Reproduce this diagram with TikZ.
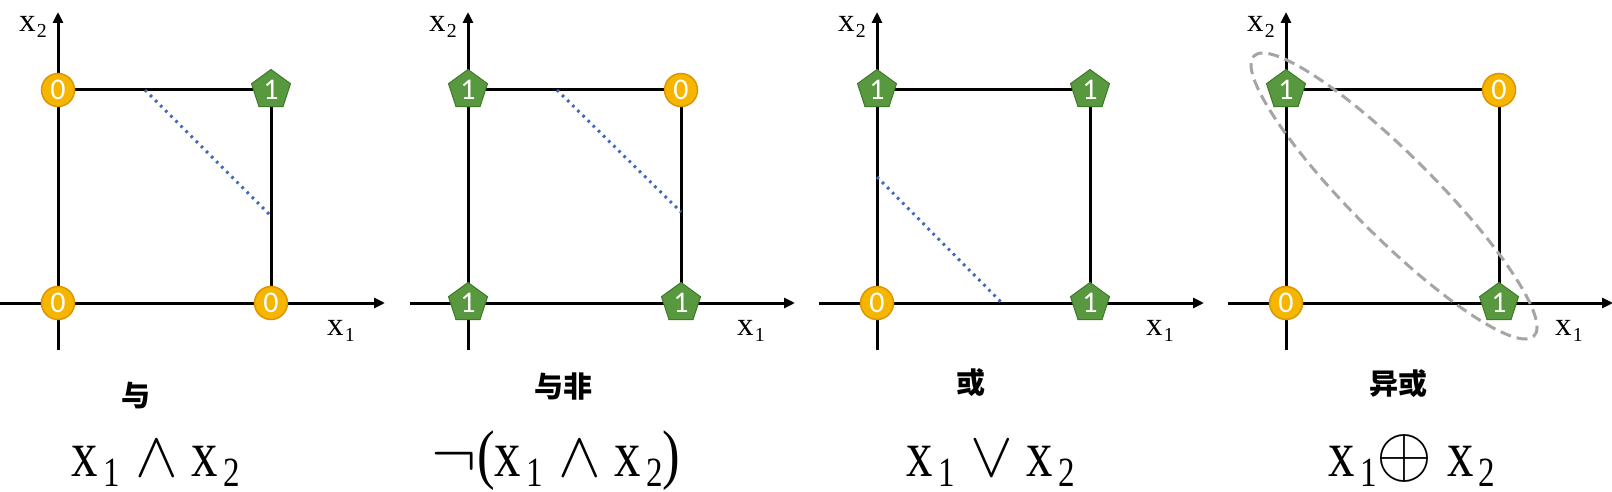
\documentclass[tikz,border=0pt]{standalone}
\usepackage{fontspec}
\usepackage{graphicx}
\newfontfamily\cjk{Noto Sans CJK SC}
\newfontfamily\digitfont{Carlito}
\newfontfamily\formfont{Liberation Serif}
\usetikzlibrary{shapes.geometric,arrows.meta}
\definecolor{gold}{RGB}{246,182,0}
\definecolor{golddark}{RGB}{222,150,0}
\definecolor{leaf}{RGB}{88,152,62}
\definecolor{leafdark}{RGB}{62,122,42}
\definecolor{sepblue}{RGB}{68,104,190}
\definecolor{ringgray}{RGB}{165,165,165}
% formula variable with subscript (big formulas)
\newcommand\xv{\scalebox{0.8}[1]{x}}
\newcommand\xsub[1]{\xv\hspace{0.08em}\raisebox{-0.16em}{\scalebox{0.5}[0.63]{#1}}}
% axis label variable with subscript
\newcommand\axsub[1]{x\hspace{0.04em}\raisebox{-0.18em}{\scalebox{0.6}{#1}}}
% logic operator taken from the math font, scaled up
\newcommand\opsym[2][6.4]{\scalebox{#1}{\fontsize{10}{12}\selectfont$#2$}}
\tikzset{
  axisline/.style={line width=3pt, -{Triangle[length=11pt,width=10pt]}},
  edgeline/.style={line width=3pt},
  sepline/.style={draw=sepblue, line width=3pt, dash pattern=on 2.6pt off 4.6pt},
  zero/.style={circle, fill=gold, draw=golddark, line width=1.5pt, minimum size=33pt, inner sep=0pt,
    text=white, font=\digitfont\fontsize{30}{30}\selectfont},
  one/.style={regular polygon, regular polygon sides=5, fill=leaf, draw=leafdark, line width=1pt,
    minimum size=41pt, inner sep=0pt, text=white, font=\digitfont\fontsize{30}{30}\selectfont},
  axlabel/.style={font=\formfont\fontsize{33}{35}\selectfont, inner sep=0pt},
  gatetitle/.style={font=\cjk\bfseries\fontsize{29}{30}\selectfont, inner sep=0pt},
  formula/.style={font=\formfont\fontsize{66}{70}\selectfont, anchor=base, inner sep=0pt},
  ring/.style={draw=ringgray, line width=3pt, dash pattern=on 11pt off 6pt, ellipse, inner sep=0pt}
}
\newcommand\panelframe[2]{% #1 prefix, #2 origin x
  \coordinate (#1xs) at (#2-58,303);
  \coordinate (#1xe) at (#2+327,303);
  \coordinate (#1ys) at (#2,350);
  \coordinate (#1ye) at (#2,12);
  \coordinate (#1o) at (#2,303);
  \coordinate (#1r) at (#2+213,303);
  \coordinate (#1t) at (#2,90);
  \coordinate (#1tr) at (#2+213,90);
  \draw[axisline] (#1xs) -- (#1xe);
  \draw[axisline] (#1ys) -- (#1ye);
  \draw[edgeline] (#1t) -- (#1tr) -- (#1r);
  \node[axlabel] (#1lx) at (#2+283,331) {\axsub{1}};
  \node[axlabel] (#1ly) at (#2-25,27) {\axsub{2}};
}
\begin{document}
\begin{tikzpicture}[x=1pt,y=-1pt]
\useasboundingbox[fill=white] (0,0) rectangle (1612,492);

% ---------- panel 1: AND ----------
\panelframe{a}{58}
\coordinate (as1) at (58+87,90);
\coordinate (as2) at (58+214,217);
\draw[sepline] (as1) -- (as2);
\node[zero] (a00) at (ao) {0};
\node[zero] (a10) at (ar) {0};
\node[zero] (a01) at (at) {0};
\node[one]  (a11) at (atr) {1};
\node[gatetitle] (atitle) at (136,396) {与};
\node[formula] (aform) at (156,476) {\xsub{1}\hspace{0.24em}\opsym{\wedge}\hspace{0.2em}\xsub{2}};

% ---------- panel 2: NAND ----------
\panelframe{b}{468}
\coordinate (bs1) at (468+89,90);
\coordinate (bs2) at (468+213,212);
\draw[sepline] (bs1) -- (bs2);
\node[one]  (b00) at (bo) {1};
\node[one]  (b10) at (br) {1};
\node[one]  (b01) at (bt) {1};
\node[zero] (b11) at (btr) {0};
\node[gatetitle] (btitle) at (563,387) {与非};
\node[formula] (bform) at (556,476) {\opsym[6.8]{\neg}\scalebox{0.8}[1]{(}\xsub{1}\hspace{0.24em}\opsym{\wedge}\hspace{0.2em}\xsub{2}\scalebox{0.8}[1]{)}};

% ---------- panel 3: OR ----------
\panelframe{c}{877}
\coordinate (cs1) at (877,177);
\coordinate (cs2) at (877+125,303);
\draw[sepline] (cs1) -- (cs2);
\node[zero] (c00) at (co) {0};
\node[one]  (c10) at (cr) {1};
\node[one]  (c01) at (ct) {1};
\node[one]  (c11) at (ctr) {1};
\node[gatetitle] (ctitle) at (971,383) {或};
\node[formula] (cform) at (991,476) {\xsub{1}\hspace{0.24em}\opsym{\vee}\hspace{0.2em}\xsub{2}};

% ---------- panel 4: XOR ----------
\panelframe{d}{1286}
\node[zero] (d00) at (do) {0};
\node[one]  (d10) at (dr) {1};
\node[one]  (d01) at (dt) {1};
\node[zero] (d11) at (dtr) {0};
\node[ring, minimum width=396pt, minimum height=82pt, rotate=-45] (dring) at (1394,196) {};
\node[gatetitle] (dtitle) at (1398,384) {异或};
\node[formula] (dform) at (1412,476) {\xsub{1}\opsym[7.2]{\oplus}\hspace{0.22em}\xsub{2}};
\end{tikzpicture}
\end{document}
